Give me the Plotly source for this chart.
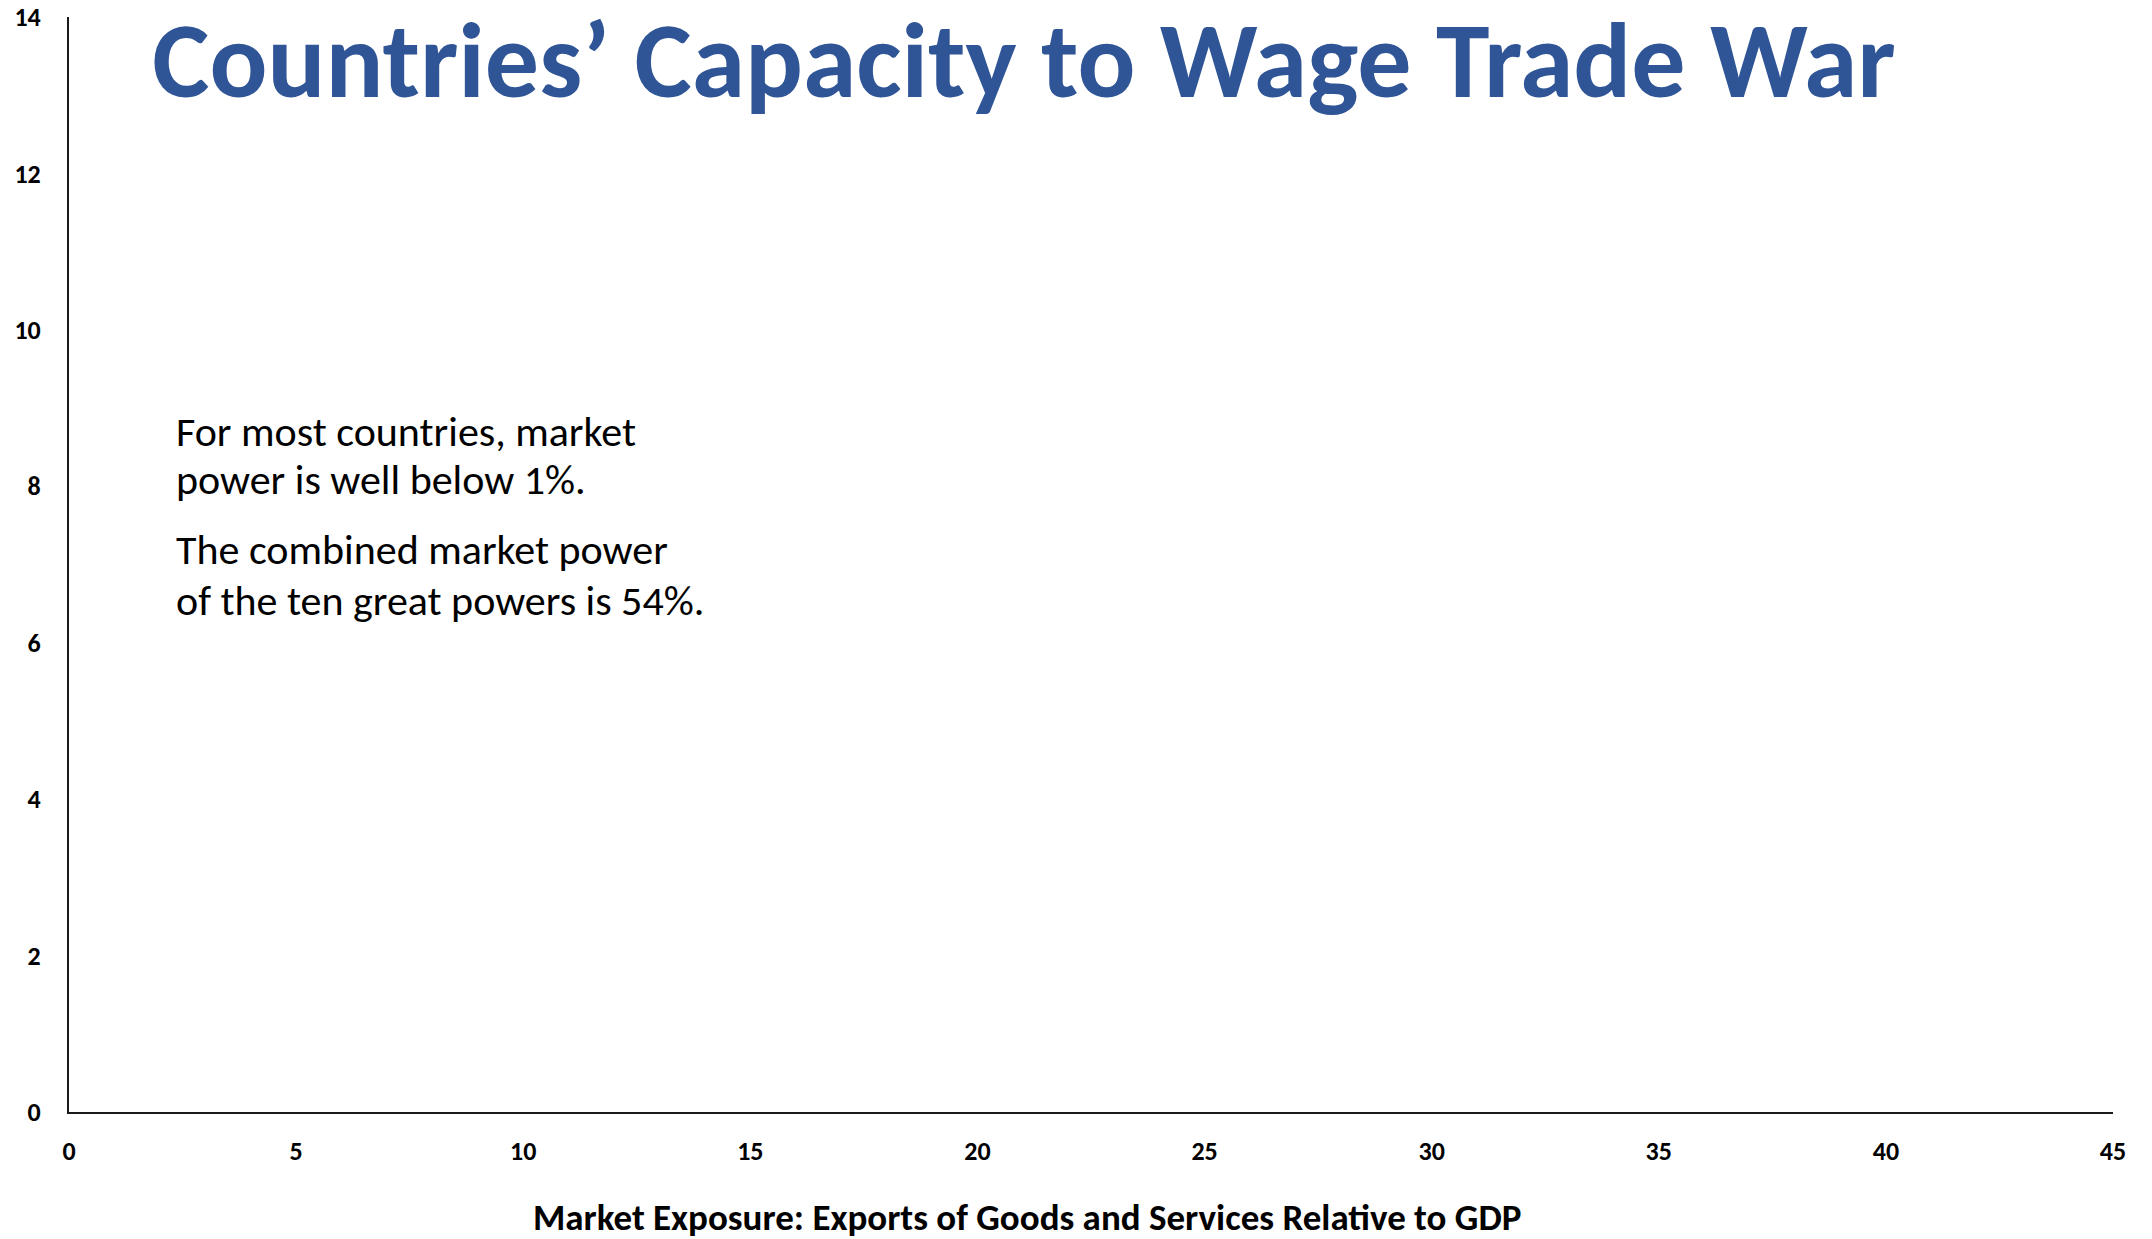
"""Countries' capacity to wage trade war: empty scatter frame with notes"""

import plotly.graph_objects as go

# axis ticks
x_ticks = [0, 5, 10, 15, 20, 25, 30, 35, 40, 45]
y_ticks = [0, 2, 4, 6, 8, 10, 12, 14]

# no points are plotted on the reference
exposure = []
market_power = []

title_text = "Countries\u2019 Capacity to Wage Trade War"
x_title = "Market Exposure: Exports of Goods and Services Relative to GDP"
note_lines = ["For most countries, market", "power is well below 1%.",
              "The combined market power", "of the ten great powers is 54%."]

FONT = "Calibri, Carlito, Lato, sans-serif"

# plot area in page pixels (body margin removed below)
W, H = 2152, 1239
L, T = 69, 17
R = W - 2113
B = H - 1112
plot_w = W - L - R
plot_h = H - T - B


def px_x(page_x):
    return (page_x - L) / plot_w


def px_y(page_y):
    return (H - B - page_y) / plot_h


fig = go.Figure(go.Scatter(x=exposure, y=market_power, mode="markers",
                           marker=dict(color="#2F5597", size=10), showlegend=False))

axis_common = dict(showgrid=False, zeroline=False, showline=True, linecolor="#1a1a1a",
                   linewidth=2, ticks="outside", tickcolor="rgba(0,0,0,0)", automargin=False,
                   tickfont=dict(family=FONT, size=26, color="black", weight="bold"))

fig.update_xaxes(range=[0, 45], tickvals=x_ticks, ticklen=15, **axis_common)
fig.update_yaxes(range=[0, 14], tickvals=y_ticks, ticklen=21, **axis_common)

# note lines, page rows of each line centre
note_rows = [431, 480, 549, 600]
for line, row in zip(note_lines, note_rows):
    fig.add_annotation(x=px_x(174), y=px_y(row), xref="paper", yref="paper",
                       text=line, showarrow=False, xanchor="left", yanchor="middle",
                       align="left", font=dict(family=FONT, size=42, color="black"))

# axis title placed by hand
fig.add_annotation(x=px_x(1027), y=px_y(1217), xref="paper", yref="paper", text=x_title,
                   showarrow=False, xanchor="center", yanchor="middle",
                   font=dict(family=FONT, size=37, color="black", weight="bold"))

fig.update_layout(
    width=W, height=H,
    margin=dict(l=L, r=R, t=T, b=B, autoexpand=False),
    paper_bgcolor="white", plot_bgcolor="white",
    title=dict(text=title_text, xref="container", yref="container",
               x=1024 / W, y=1 - 59 / H, xanchor="center", yanchor="middle",
               font=dict(family=FONT, size=108, color="#2F5597", weight="bold")),
)

fig.write_html("out.html", config={"displayModeBar": False},
               post_script="document.body.style.margin='0';")
